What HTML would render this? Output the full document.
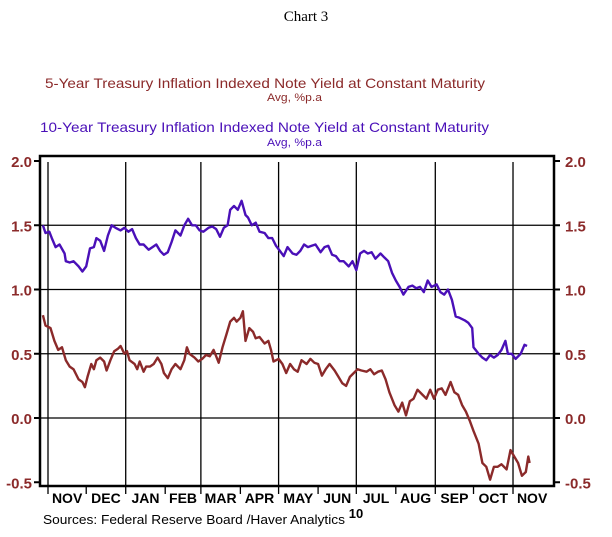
<!DOCTYPE html>
<html><head><meta charset="utf-8"><style>
html,body{margin:0;padding:0;background:#fff;}
svg{display:block;font-family:"Liberation Sans",Arial,sans-serif;}
</style></head><body>
<svg id="chart" width="612" height="537" viewBox="0 0 612 537" xmlns="http://www.w3.org/2000/svg">
<text x="306" y="21" text-anchor="middle" font-family="Liberation Serif, serif" font-size="15">Chart 3</text>
<text x="45" y="88" font-size="14" fill="#8b2a2a" textLength="440" lengthAdjust="spacingAndGlyphs">5-Year Treasury Inflation Indexed Note Yield at Constant Maturity</text>
<text x="267" y="101" font-size="11" fill="#8b2a2a" textLength="55" lengthAdjust="spacingAndGlyphs">Avg, %p.a</text>
<text x="40" y="132" font-size="14" fill="#4a10b8" textLength="449" lengthAdjust="spacingAndGlyphs">10-Year Treasury Inflation Indexed Note Yield at Constant Maturity</text>
<text x="267" y="146" font-size="11" fill="#4a10b8" textLength="55" lengthAdjust="spacingAndGlyphs">Avg, %p.a</text>
<g id="grid"></g>
<g id="series"></g>
<rect x="40" y="156" width="514" height="330" fill="none" stroke="#000" stroke-width="2.5"/>
<g id="axes"></g>
<text x="43" y="524" font-size="13" fill="#000" textLength="302" lengthAdjust="spacingAndGlyphs">Sources:  Federal Reserve Board /Haver Analytics</text>
<text x="356" y="518" font-size="13" text-anchor="middle" font-weight="bold">10</text>
</svg>
<script>
const yTicks=[2.0,1.5,1.0,0.5,0.0,-0.5];
const yTickLabels=["2.0","1.5","1.0","0.5","0.0","-0.5"];
const monthLabels=["NOV","DEC","JAN","FEB","MAR","APR","MAY","JUN","JUL","AUG","SEP","OCT","NOV"];
const monthStarts=[0,30,61,92,120,151,181,212,242,273,304,334,365,395];
const gridMonths=[0,61,120,181,242,304,365];
const tenDays=[-4,-2,1,3,6,9,13,14,17,20,24,27,30,33,36,38,41,44,47,50,53,57,60,63,66,69,72,75,79,82,85,88,91,94,97,100,104,107,110,113,116,119,122,126,129,132,135,138,141,143,146,149,152,155,157,160,163,166,170,173,176,179,182,185,188,192,195,198,201,204,207,210,214,217,220,223,226,229,232,236,239,242,245,248,251,254,257,261,264,267,270,273,276,279,283,286,289,292,295,298,301,305,308,311,314,317,320,323,327,330,333,334,338,341,344,347,350,353,356,359,361,364,367,371,374,376];
const tenVals=[1.50,1.44,1.45,1.40,1.33,1.35,1.28,1.22,1.21,1.22,1.18,1.14,1.18,1.32,1.33,1.40,1.38,1.30,1.42,1.50,1.48,1.46,1.48,1.45,1.47,1.40,1.35,1.35,1.31,1.33,1.35,1.30,1.27,1.29,1.37,1.46,1.42,1.50,1.55,1.50,1.50,1.46,1.45,1.48,1.49,1.47,1.41,1.48,1.50,1.62,1.65,1.62,1.69,1.58,1.56,1.50,1.52,1.45,1.44,1.40,1.40,1.34,1.30,1.26,1.33,1.28,1.27,1.30,1.35,1.33,1.34,1.35,1.29,1.33,1.34,1.27,1.26,1.22,1.22,1.18,1.22,1.15,1.28,1.30,1.28,1.29,1.24,1.28,1.25,1.22,1.13,1.07,1.02,0.96,1.02,1.03,1.01,1.02,0.98,1.07,1.02,1.04,0.98,0.96,1.00,0.92,0.79,0.78,0.76,0.74,0.70,0.55,0.50,0.47,0.45,0.49,0.47,0.49,0.53,0.60,0.50,0.50,0.46,0.50,0.57,0.56];
const fiveDays=[-4,-2,2,5,8,11,14,17,20,24,27,29,31,34,36,38,41,44,46,49,52,55,57,60,62,64,68,70,72,75,77,80,83,86,89,91,94,97,100,104,107,109,111,115,118,121,124,127,130,132,134,137,140,143,146,148,151,153,155,158,161,163,166,170,173,175,177,181,184,187,190,193,196,199,203,206,209,212,215,218,221,225,228,231,234,237,240,243,246,250,253,256,259,262,265,268,272,275,278,281,284,287,290,294,297,300,303,306,309,312,316,319,322,325,328,331,334,338,341,344,347,350,353,356,360,363,366,369,372,375,377,378];
const fiveVals=[0.80,0.72,0.70,0.60,0.53,0.55,0.45,0.40,0.38,0.30,0.28,0.24,0.32,0.42,0.38,0.45,0.47,0.44,0.37,0.45,0.52,0.54,0.56,0.50,0.52,0.45,0.42,0.38,0.44,0.36,0.40,0.40,0.42,0.47,0.42,0.35,0.31,0.38,0.42,0.38,0.45,0.55,0.50,0.47,0.44,0.46,0.49,0.48,0.53,0.48,0.43,0.55,0.65,0.75,0.78,0.75,0.78,0.83,0.60,0.70,0.67,0.62,0.63,0.58,0.60,0.53,0.44,0.46,0.42,0.35,0.42,0.38,0.36,0.45,0.42,0.46,0.43,0.42,0.33,0.38,0.42,0.37,0.32,0.27,0.25,0.32,0.35,0.38,0.37,0.36,0.38,0.34,0.36,0.37,0.30,0.20,0.10,0.05,0.12,0.02,0.13,0.15,0.22,0.18,0.15,0.22,0.15,0.22,0.23,0.18,0.28,0.20,0.18,0.10,0.05,-0.02,-0.10,-0.20,-0.35,-0.38,-0.48,-0.38,-0.38,-0.36,-0.40,-0.25,-0.30,-0.35,-0.45,-0.42,-0.30,-0.35];

const NS="http://www.w3.org/2000/svg";
const X0=40,X1=554,Y0=156,Y1=486;
function xs(d){return 48+d*1.274;}
function ys(v){return 418-v*128.5;}
function mk(tag,parent,attrs){const e=document.createElementNS(NS,tag);for(const k in attrs)e.setAttribute(k,attrs[k]);parent.appendChild(e);return e;}
const grid=document.getElementById('grid'),axes=document.getElementById('axes'),ser=document.getElementById('series');
yTicks.forEach((v,i)=>{
  const y=ys(v);
  if(v<2&&v>-0.5){const l=mk('line',grid,{x1:X0,x2:X1,y1:y,y2:y,stroke:'#000','stroke-width':1.3});
  
  }
  const tl=mk('line',axes,{x1:X0-6,x2:X0,y1:y,y2:y,stroke:'#000','stroke-width':2});
  
  
  const tr=mk('line',axes,{x1:X1,x2:X1+6,y1:y,y2:y,stroke:'#000','stroke-width':2});
  
  
  const a=mk('text',axes,{x:32,y:y+6,'text-anchor':'end','font-size':15,'font-weight':'bold',fill:'#8b2a2a'});
  a.textContent=yTickLabels[i];
  
  
  const b=mk('text',axes,{x:565,y:y+6,'font-size':15,'font-weight':'bold',fill:'#8b2a2a'});
  b.textContent=yTickLabels[i];
  
  
});
gridMonths.forEach(d=>{
  const l=mk('line',grid,{x1:xs(d),x2:xs(d),y1:Y0+6,y2:Y1,stroke:'#000','stroke-width':1.3});
  
  
});
monthLabels.forEach((m,i)=>{
  const t=mk('line',axes,{x1:xs(monthStarts[i]),x2:xs(monthStarts[i]),y1:Y1,y2:Y1+8,stroke:'#000','stroke-width':1.3});
  
  
  const cx=(xs(monthStarts[i])+xs(monthStarts[i+1]))/2;
  const tx=mk('text',axes,{x:cx,y:503,'text-anchor':'middle','font-size':14,'font-weight':'bold',fill:'#000'});
  tx.textContent=m;
  
  
});
function line(days,vals,color,name){
  const d=days.map((t,i)=>(i?'L':'M')+xs(t).toFixed(1)+' '+ys(vals[i]).toFixed(1)).join(' ');
  const p=mk('path',ser,{d:d,fill:'none',stroke:color,'stroke-width':2.4,'stroke-linejoin':'round'});
  
  
}
line(fiveDays,fiveVals,'#8b2a2a','series-5yr-line');
line(tenDays,tenVals,'#4a10b8','series-10yr-line');
</script>
</body></html>
